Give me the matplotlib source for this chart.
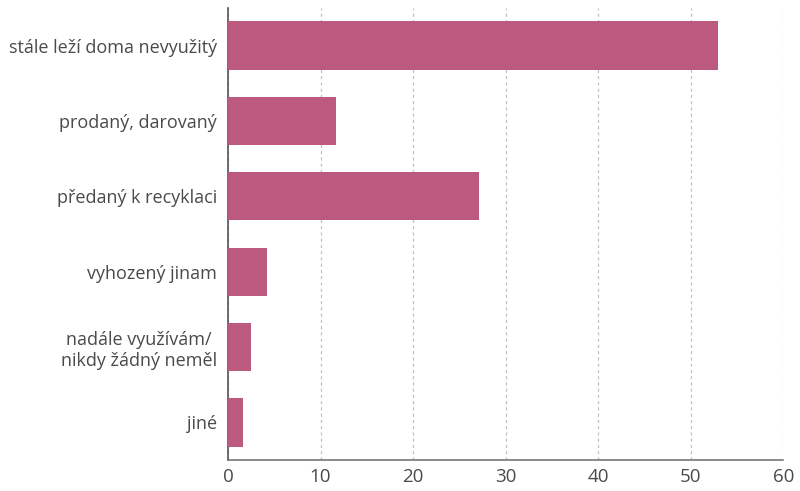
import matplotlib
matplotlib.use("Agg")
import matplotlib.pyplot as plt

# categories top to bottom and their shares (%)
categories = ["stále leží doma nevyužitý", "prodaný, darovaný", "předaný k recyklaci",
              "vyhozený jinam", "nadále využívám/\nnikdy žádný neměl", "jiné"]
values = [53.0, 11.7, 27.1, 4.2, 2.5, 1.6]
xticks = [0, 10, 20, 30, 40, 50, 60]

plt.rcParams['font.family'] = ['Open Sans', 'DejaVu Sans']
txt = '#4a4a4a'

fig = plt.figure(figsize=(8, 4.91), dpi=100)
ax = fig.add_axes([0.285, 0.063, 0.694, 0.921])

pos = list(range(len(categories)))
ax.barh(pos, values, height=0.64, color='#bb5a7e', zorder=3)
ax.set_ylim(len(categories) - 0.5, -0.5)
ax.set_xlim(0, 60)
ax.set_xticks(xticks)
ax.set_yticks(pos)
ax.set_yticklabels(categories, ha='right', multialignment='center')

ax.grid(axis='x', color='#c0c0c0', linestyle=(0, (2.5, 2.5)), linewidth=0.9, zorder=0)
for s in ['top', 'right']:
    ax.spines[s].set_visible(False)
ax.spines['left'].set_color('#555555')
ax.spines['bottom'].set_color('#777777')
ax.spines['left'].set_linewidth(1.2)
ax.spines['bottom'].set_linewidth(1.2)
ax.tick_params(axis='both', length=0, labelsize=13, colors=txt, pad=8)
ax.tick_params(axis='x', pad=6, labelsize=13.5)

fig.savefig('out.png', dpi=100)
